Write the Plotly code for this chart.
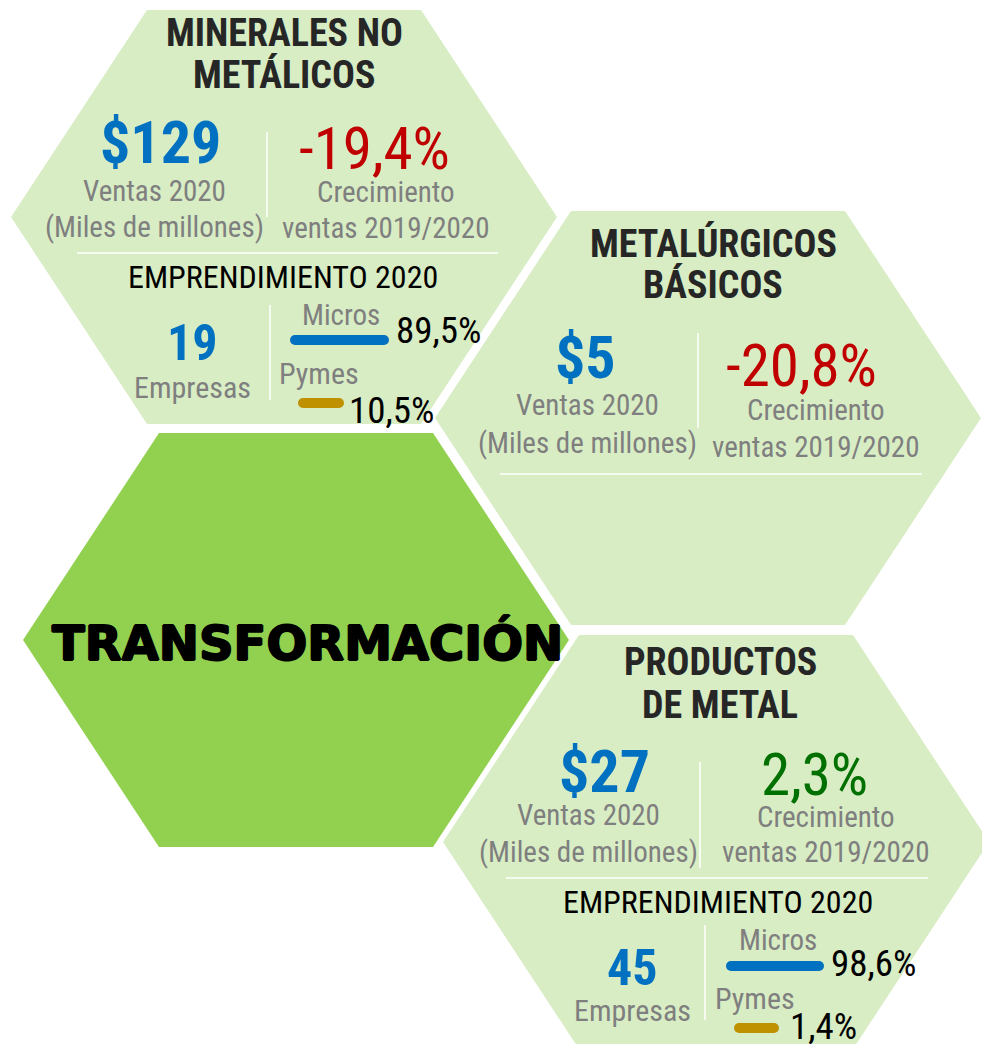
import plotly.graph_objects as go

W, H = 982, 1044

# datos
sectores = ["MINERALES NO<br>METÁLICOS", "METALÚRGICOS<br>BÁSICOS", "PRODUCTOS<br>DE METAL"]
ventas_2020 = [129, 5, 27]            # miles de millones
crecimiento = [-19.4, -20.8, 2.3]     # % ventas 2019/2020
empresas = [19, None, 45]
pct_micros = [89.5, None, 98.6]
pct_pymes = [10.5, None, 1.4]
centro = "TRANSFORMACIÓN"

NARROW = "Roboto Condensed, Liberation Sans Narrow, DejaVu Sans Condensed, Arial Narrow, sans-serif"
AZUL = "#0070C0"
GRIS = "#7F7F7F"
ORO = "#BF9000"
VERDE_CLARO = "#D8EDC4"
VERDE = "#92D050"

# hexagonos: centro, media anchura, media altura, medio lado superior
HW, HH, HT = 273, 207, 137
hex_centros = [(284, 217), (708, 418), (716, 842)]
hex_central = (296, 640)

# posiciones de cada panel (px)
paneles = [
    dict(tx=284, t=(33, 75), vx=160, vy=142, lx=154, l=(191, 227),
         dv=(267, 132, 217), gx=374, gy=148, cx=386, c=(192, 228),
         sep=(77, 498, 253), ex=283, ey=277, dv2=(270, 305, 400),
         nx=192, ny=343, ny2=387, mx=341, my=315, bm=(295, 384, 340), pm=(394, 330),
         px=319, py=373, bp=(303, 339, 403), pp=(347, 410)),
    dict(tx=713, t=(243, 285), vx=585, vy=357, lx=587, l=(405, 443),
         dv=(698, 333, 428), gx=801, gy=365, cx=816, c=(410, 447),
         sep=(500, 922, 474)),
    dict(tx=720, t=(662, 705), vx=604, vy=771, lx=588, l=(815, 852),
         dv=(700, 762, 868), gx=814, gy=774, cx=826, c=(817, 852),
         sep=(506, 928, 878), ex=718, ey=902, dv2=(705, 925, 1020),
         nx=632, ny=968, ny2=1010, mx=778, my=940, bm=(731, 819, 966), pm=(829, 963),
         px=755, py=998, bp=(739, 774, 1028), pp=(788, 1026)),
]


def pct(v):
    return f"{v:.1f}".replace(".", ",") + "%"


def hexagono(cx, cy):
    pts = [(cx - HW, cy), (cx - HT, cy - HH), (cx + HT, cy - HH),
           (cx + HW, cy), (cx + HT, cy + HH), (cx - HT, cy + HH)]
    return "M " + " L ".join(f"{x},{y}" for x, y in pts) + " Z"


fig = go.Figure()
shapes = []
annotations = []


def texto(x, y, s, size, color, bold=False, family=NARROW, xanchor="center", shadow=None):
    font = dict(family=family, size=size, color=color,
                weight="bold" if bold else "normal")
    if shadow:
        font["shadow"] = shadow
    annotations.append(dict(
        x=x, y=y, xref="x", yref="y", text=s, showarrow=False,
        xanchor=xanchor, yanchor="middle", font=font,
    ))


def linea(x0, y0, x1, y1):
    shapes.append(dict(type="line", x0=x0, y0=y0, x1=x1, y1=y1, xref="x", yref="y",
                       line=dict(color="white", width=1.5)))


for cx, cy in hex_centros:
    shapes.append(dict(type="path", path=hexagono(cx, cy), fillcolor=VERDE_CLARO,
                       line=dict(width=0), layer="below"))
shapes.append(dict(type="path", path=hexagono(*hex_central), fillcolor=VERDE,
                   line=dict(width=0), layer="below"))

# letra muy gruesa, tipo Arial Black
texto(307, 643, centro, 48, "black", bold=True, family="DejaVu Sans, sans-serif",
      shadow="1px 0px 0px #000, -1px 0px 0px #000, 0px 1px 0px #000, 0px -1px 0px #000")

for i, p in enumerate(paneles):
    for y, parte in zip(p["t"], sectores[i].split("<br>")):
        texto(p["tx"], y, parte, 38, "#262626", bold=True)

    texto(p["vx"], p["vy"], f"${ventas_2020[i]}", 60, AZUL, bold=True)
    texto(p["lx"], p["l"][0], "Ventas 2020", 29, GRIS)
    texto(p["lx"], p["l"][1], "(Miles de millones)", 29, GRIS)

    color_c = "#C00000" if crecimiento[i] < 0 else "#007000"
    texto(p["gx"], p["gy"], pct(crecimiento[i]), 59, color_c)
    texto(p["cx"], p["c"][0], "Crecimiento", 29, GRIS)
    texto(p["cx"], p["c"][1], "ventas 2019/2020", 29, GRIS)

    x, y0, y1 = p["dv"]
    linea(x, y0, x, y1)
    x0, x1, y = p["sep"]
    linea(x0, y, x1, y)

    if empresas[i] is None:
        continue

    texto(p["ex"], p["ey"], "EMPRENDIMIENTO 2020", 32, "black")
    x, y0, y1 = p["dv2"]
    linea(x, y0, x, y1)
    texto(p["nx"], p["ny"], str(empresas[i]), 50, AZUL, bold=True)
    texto(p["nx"], p["ny2"], "Empresas", 30, GRIS)

    texto(p["mx"], p["my"], "Micros", 29, GRIS)
    texto(p["pm"][0], p["pm"][1], pct(pct_micros[i]), 37, "black", xanchor="left")
    texto(p["px"], p["py"], "Pymes", 30, GRIS)
    texto(p["pp"][0], p["pp"][1], pct(pct_pymes[i]), 37, "black", xanchor="left")

    for (a, b, y), col in ((p["bm"], AZUL), (p["bp"], ORO)):
        fig.add_trace(go.Scatter(
            x=[a, b], y=[y, y], mode="lines+markers",
            line=dict(color=col, width=10),
            marker=dict(color=col, size=10),
            hoverinfo="skip", showlegend=False,
        ))

fig.update_layout(
    width=W, height=H,
    margin=dict(l=0, r=0, t=0, b=0),
    paper_bgcolor="white", plot_bgcolor="white",
    xaxis=dict(range=[0, W], visible=False, fixedrange=True),
    yaxis=dict(range=[H, 0], visible=False, fixedrange=True),
    shapes=shapes, annotations=annotations,
    showlegend=False,
)

fig.write_html("out.html", config={"displayModeBar": False},
               post_script="document.body.style.margin = '0px';")
